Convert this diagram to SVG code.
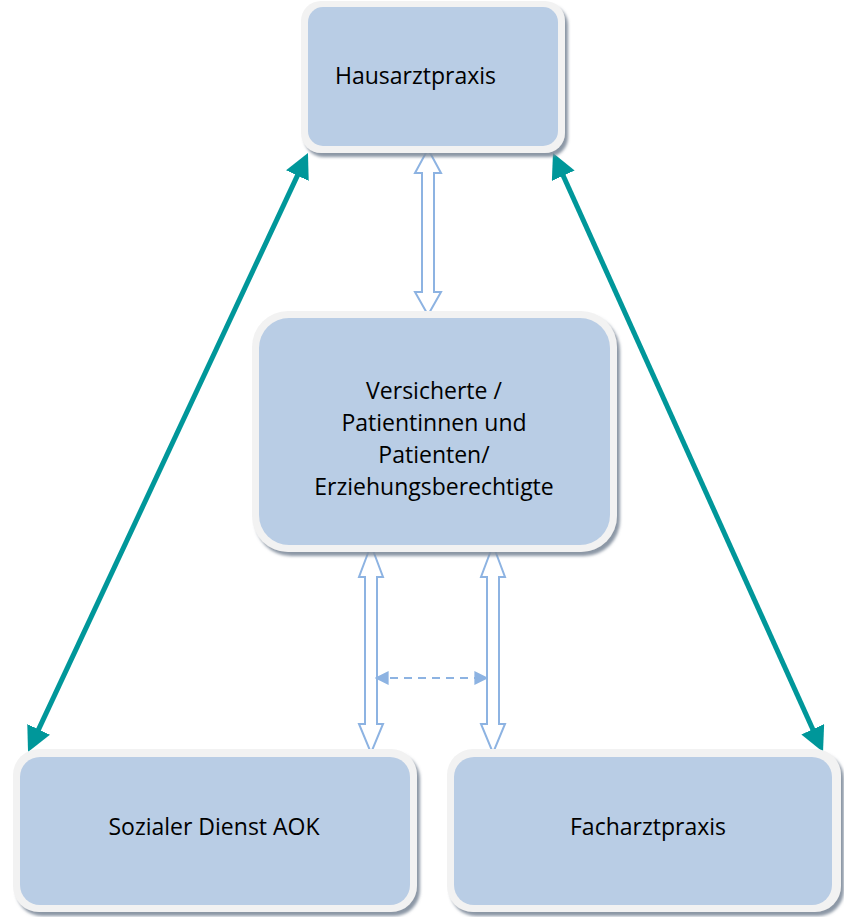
<svg xmlns="http://www.w3.org/2000/svg" width="844" height="917" viewBox="0 0 844 917">
<style>
.frame{fill:#F2F2F2;filter:url(#sh)}
.box{fill:#B9CDE5}
.t{font-family:"Open Sans","Noto Sans",sans-serif;font-size:23px;fill:#000}
.hollow{fill:#FFFFFF;stroke:#8DB3E2;stroke-width:2;stroke-linejoin:miter}
.teal{stroke:#00979A;stroke-width:5;fill:none}
</style>
<defs>
<filter id="sh" x="-10%" y="-10%" width="130%" height="130%">
<feDropShadow dx="3" dy="4" stdDeviation="1.5" flood-color="#7F8C9B" flood-opacity="0.9"/>
</filter>
<marker id="ta" viewBox="0 0 10 10" refX="2" refY="5" markerWidth="5" markerHeight="5" orient="auto-start-reverse" markerUnits="strokeWidth">
<path d="M0,0 L10,5 L0,10 z" fill="#00979A"/>
</marker>
<marker id="da" viewBox="0 0 10 10" refX="9" refY="5" markerWidth="7" markerHeight="8" orient="auto-start-reverse" markerUnits="strokeWidth">
<path d="M0,0 L10,5 L0,10 z" fill="#8DB3E2"/>
</marker>
</defs>
<g id="connectors">
<line class="teal" x1="299.5" y1="171.1" x2="36.5" y2="733.9" marker-start="url(#ta)" marker-end="url(#ta)"/>
<line class="teal" x1="561.2" y1="171.2" x2="814.8" y2="733.8" marker-start="url(#ta)" marker-end="url(#ta)"/>
<path class="hollow" d="M428,149 L441,173 L434,173 L434,292 L441,292 L428,315 L415,292 L422,292 L422,173 L415,173 Z"/>
<path class="hollow" d="M371,545 L383,577 L377,577 L377,724 L383,724 L371,753 L359,724 L365,724 L365,577 L359,577 Z"/>
<path class="hollow" d="M493,545 L505,577 L499,577 L499,724 L505,724 L493,753 L481,724 L487,724 L487,577 L481,577 Z"/>
<line x1="376" y1="678" x2="487" y2="678" stroke="#8DB3E2" stroke-width="2" stroke-dasharray="8,6" marker-start="url(#da)" marker-end="url(#da)"/>
</g>
<g id="hausarzt">
<rect class="frame" x="301" y="1" width="264" height="152" rx="20"/>
<rect class="box" x="308" y="7" width="250" height="139" rx="15"/>
<text class="t" x="335" y="84">Hausarztpraxis</text>
</g>
<g id="versicherte">
<rect class="frame" x="252" y="311" width="365" height="241" rx="36"/>
<rect class="box" x="259" y="318" width="351" height="227" rx="30"/>
<text class="t" text-anchor="middle" x="434" y="399">Versicherte /</text>
<text class="t" text-anchor="middle" x="434" y="431">Patientinnen und</text>
<text class="t" text-anchor="middle" x="434" y="463">Patienten/</text>
<text class="t" text-anchor="middle" x="434" y="495">Erziehungsberechtigte</text>
</g>
<g id="sozialer">
<rect class="frame" x="13" y="749" width="404" height="163" rx="26"/>
<rect class="box" x="20" y="757" width="390" height="148" rx="20"/>
<text class="t" text-anchor="middle" x="214" y="835">Sozialer Dienst AOK</text>
</g>
<g id="facharzt">
<rect class="frame" x="447" y="749" width="394" height="163" rx="26"/>
<rect class="box" x="454" y="757" width="378" height="148" rx="20"/>
<text class="t" text-anchor="middle" x="648" y="835">Facharztpraxis</text>
</g>
</svg>
